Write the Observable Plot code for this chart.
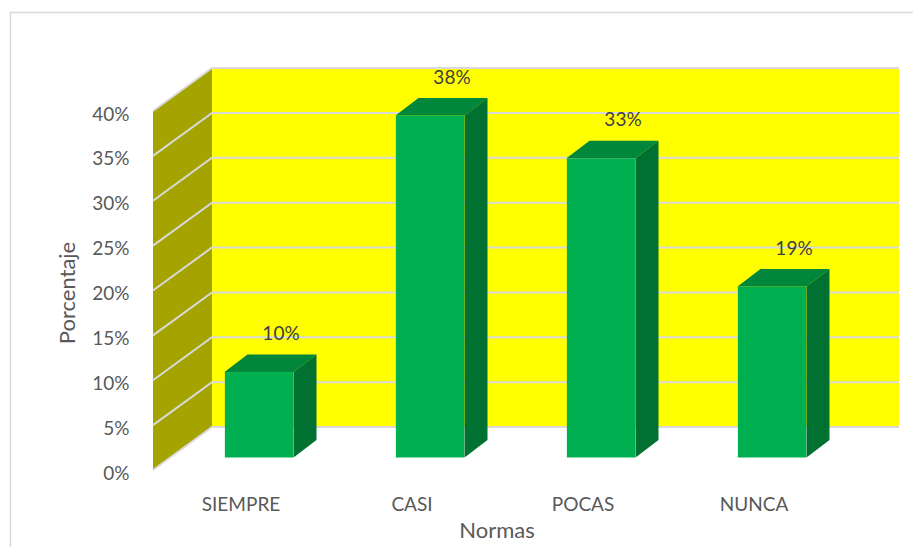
<!DOCTYPE html>
<html>
<head>
<meta charset="utf-8">
<script src="https://cdn.jsdelivr.net/npm/d3@7"></script>
<script src="https://cdn.jsdelivr.net/npm/@observablehq/plot@0.6"></script>
<style>
  body { margin: 0; background: #fff; }
  #chart svg { display: block; }
</style>
</head>
<body>
<div id="chart"></div>
<script>
// Norm categories and the share of answers for each one
const categories = ["SIEMPRE", "CASI", "POCAS", "NUNCA"];
const shares = [0.0952, 0.3810, 0.3333, 0.1905];
// Percentage ticks on the vertical axis
const yTicks = [0, 0.05, 0.10, 0.15, 0.20, 0.25, 0.30, 0.35, 0.40];

const data = categories.map((cat, i) => ({cat, share: shares[i]}));
const pct = d3.format(".0%");

// Layout and pseudo-3D geometry
const W = 913, H = 547;
const margin = {top: 111, right: 73, bottom: 77, left: 153};
const wallDepth = [59, -43];      // offset from the front plane to the back wall
const barOffset = [18.5, -12.5];  // front face of each bar, inside the floor depth
const barDepth = [23, -17.5];     // front-to-back extent of each bar
const barWidth = 69;
const bandWidth = (W - margin.left - margin.right) / categories.length;
const inset = (bandWidth - barWidth) / 2;

const colors = {
  backWall: "#FFFF00",
  sideWall: "#A5A300",
  grid: "#D9D9D9",
  front: "#00B050",
  top: "#00873C",
  side: "#007130",
  text: "#595959",
  value: "#404040",
  border: "#D9D9D9"
};

const poly = pts => pts.map(p => p.join(",")).join(" ");

// Chart border, back wall, side wall and their gridlines
function walls(index, scales, values, dim) {
  const {y} = scales;
  const g = d3.create("svg:g");
  const x0 = dim.marginLeft, x1 = dim.width - dim.marginRight;
  const [dx, dy] = wallDepth;
  const yb = y(0), yt = y(yTicks[yTicks.length - 1]);

  g.append("path")
    .attr("d", `M10.5,${dim.height}V12.5H${dim.width}`)
    .attr("fill", "none").attr("stroke", colors.border).attr("stroke-width", 1.5);

  g.append("rect")
    .attr("x", x0 + dx).attr("y", yt + dy)
    .attr("width", x1 - x0).attr("height", yb - yt)
    .attr("fill", colors.backWall);
  g.append("polygon")
    .attr("points", poly([[x0, yb], [x0, yt], [x0 + dx, yt + dy], [x0 + dx, yb + dy]]))
    .attr("fill", colors.sideWall);

  for (const t of yTicks) {
    const yy = y(t);
    g.append("path")
      .attr("d", `M${x0},${yy}L${x0 + dx},${yy + dy}H${x1 + dx}`)
      .attr("fill", "none").attr("stroke", colors.grid).attr("stroke-width", 2);
  }
  return g.node();
}

// Top and right-hand faces of each bar
function barFaces(index, scales, values, dim) {
  const {x, y} = scales;
  const bw = typeof x.bandwidth === "function" ? x.bandwidth() : scales.scales.x.bandwidth;
  const g = d3.create("svg:g");
  const [fx, fy] = barOffset;
  const [bx, by] = barDepth;
  for (const d of data) {
    const left = x(d.cat) + (bw - barWidth) / 2 + fx;
    const right = left + barWidth;
    const top = y(d.share) + fy;
    const bottom = y(0) + fy;
    g.append("polygon")
      .attr("points", poly([[left, top], [right, top], [right + bx, top + by], [left + bx, top + by]]))
      .attr("fill", colors.top);
    g.append("polygon")
      .attr("points", poly([[right, top], [right + bx, top + by], [right + bx, bottom + by], [right, bottom]]))
      .attr("fill", colors.side);
  }
  return g.node();
}

const chart = Plot.plot({
  width: W,
  height: H,
  marginTop: margin.top,
  marginRight: margin.right,
  marginBottom: margin.bottom,
  marginLeft: margin.left,
  style: {fontFamily: "Lato, 'Open Sans', sans-serif", background: "#fff", overflow: "hidden"},
  x: {type: "band", domain: categories, padding: 0},
  y: {domain: [0, 0.4]},
  marks: [
    walls,
    Plot.barY(data, {
      x: "cat", y: "share", fill: colors.front,
      insetLeft: inset, insetRight: inset,
      dx: barOffset[0], dy: barOffset[1]
    }),
    barFaces,
    Plot.text(data, {
      x: "cat", y: "share", text: d => pct(d.share),
      dx: 40, dy: -51, fontSize: 19, fill: colors.value
    }),
    Plot.axisY({
      ticks: yTicks, tickFormat: pct, tickSize: 0, tickPadding: 24,
      fontSize: 19, color: colors.text, label: null, dy: 3
    }),
    Plot.axisX({
      tickSize: 0, tickPadding: 27, fontSize: 19, color: colors.text, label: null
    }),
    Plot.text(["Porcentaje"], {
      frameAnchor: "left", textAnchor: "middle", dx: -86, dy: 2, rotate: -90,
      fontSize: 22, fill: colors.text
    }),
    Plot.text(["Normas"], {
      frameAnchor: "bottom", lineAnchor: "middle", dy: 60, fontSize: 22, fill: colors.text
    })
  ]
});

document.getElementById("chart").append(chart);
</script>
</body>
</html>
